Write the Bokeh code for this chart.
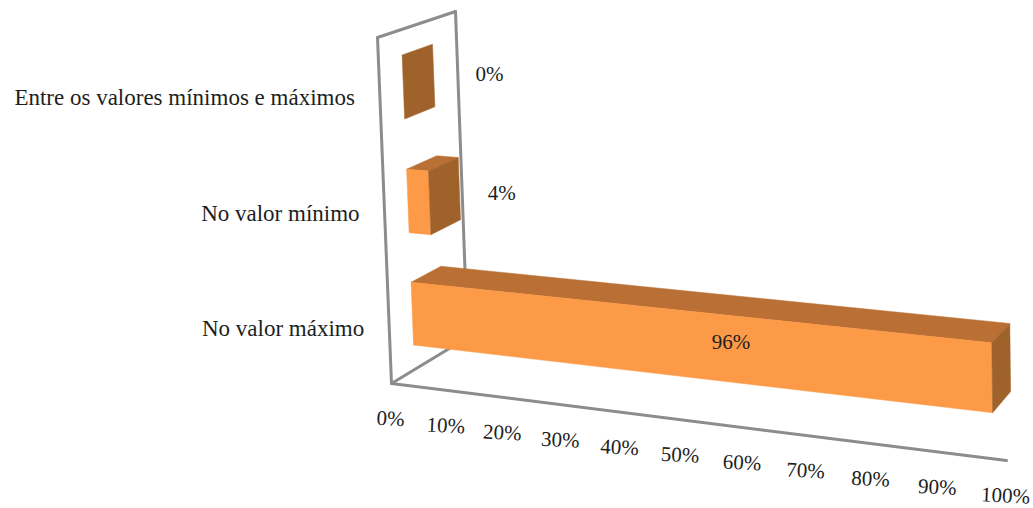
from bokeh.core.properties import value
from bokeh.embed import file_html
from bokeh.models import Range1d
from bokeh.plotting import figure
from bokeh.resources import INLINE
import numpy as np

# Chart data, bottom category first
categories = ["No valor máximo", "No valor mínimo", "Entre os valores mínimos e máximos"]
shares = [96, 4, 0]
value_ticks = [0, 10, 20, 30, 40, 50, 60, 70, 80, 90, 100]

FONT = "Liberation Serif"
CAT_SIZE = "23px"
NUM_SIZE = "21px"
FRONT, TOP, SIDE = "#FC9A47", "#BA7034", "#A0622B"
WALL = "#8C8C8C"
INK = "#1E1E1E"

# Camera: screen position of the box origin and of the far end of each axis
ORIGIN = np.array([391.0, 383.0])
VALUE_END = np.array([1006.0, 460.0])
CAT_END = np.array([377.0, 37.0])
DEPTH_END = np.array([467.0, 337.0])
WALL_CORNER = np.array([455.0, 11.0])
VALUE_WEIGHT = 0.89

# Perspective weights of the category and depth axes, from the wall's far corner
_m = np.column_stack([CAT_END - WALL_CORNER, DEPTH_END - WALL_CORNER])
CAT_WEIGHT, DEPTH_WEIGHT = np.linalg.solve(_m, ORIGIN - WALL_CORNER)


def project(v, c, d):
    """Map value (0-100), category height (0-1) and depth (0-1) to the page."""
    t = v / 100.0
    h = (ORIGIN
         + t * (VALUE_WEIGHT * VALUE_END - ORIGIN)
         + c * (CAT_WEIGHT * CAT_END - ORIGIN)
         + d * (DEPTH_WEIGHT * DEPTH_END - ORIGIN))
    w = 1 + t * (VALUE_WEIGHT - 1) + c * (CAT_WEIGHT - 1) + d * (DEPTH_WEIGHT - 1)
    return h / w


p = figure(width=1033, height=508, output_backend="svg", toolbar_location=None,
           x_range=Range1d(0, 1033), y_range=Range1d(508, 0),
           min_border=0, outline_line_color=None, background_fill_color="white",
           border_fill_color="white")
p.axis.visible = False
p.grid.visible = False

# Wall and floor edges of the box
edges = [((0, 0, 0), (100, 0, 0)), ((0, 0, 0), (0, 0, 1)), ((0, 0, 0), (0, 1, 0)),
         ((0, 1, 0), (0, 1, 1)), ((0, 1, 1), (0, 0, 1))]
xs, ys = [], []
for a, b in edges:
    pa, pb = project(*a), project(*b)
    xs.append([pa[0], pb[0]])
    ys.append([pa[1], pb[1]])
p.multi_line(xs, ys, line_color=WALL, line_width=3, line_cap="round")

# Bar blocks: each category takes a third of the height
BAR_NEAR, BAR_FAR = 0.29, 0.68
px, py, pc = [], [], []


def add_face(corners, colour):
    pts = [project(*q) for q in corners]
    px.append([q[0] for q in pts])
    py.append([q[1] for q in pts])
    pc.append(colour)


for i, share in enumerate(shares):
    lo = (i + 0.22) / 3
    hi = (i + 0.78) / 3
    n, f = BAR_NEAR, BAR_FAR
    if share > 0:
        add_face([(0, hi, n), (share, hi, n), (share, hi, f), (0, hi, f)], TOP)
        add_face([(0, lo, n), (share, lo, n), (share, hi, n), (0, hi, n)], FRONT)
    add_face([(share, lo, n), (share, lo, f), (share, hi, f), (share, hi, n)], SIDE)
p.patches(px, py, fill_color=pc, line_color=pc, line_width=0.5)

# Category labels sit left of the wall's near edge
cat_pts = [project(0, (i + 0.5) / 3, 0) for i in range(3)]
p.text([q[0] for q in cat_pts], [q[1] for q in cat_pts], text=categories,
       text_font=value(FONT), text_font_size=CAT_SIZE, text_color=INK,
       text_align="right", text_baseline="middle", x_offset=-25, y_offset=2)

# Value axis labels under the floor edge
tick_pts = [project(v, 0, 0) for v in value_ticks]
p.text([q[0] for q in tick_pts], [q[1] for q in tick_pts],
       text=[f"{v}%" for v in value_ticks],
       text_font=value(FONT), text_font_size=NUM_SIZE, text_color=INK,
       text_align="center", text_baseline="middle", x_offset=-1, y_offset=35,
       angle=-0.05)

# Value labels beside or on each bar
big = project(shares[0] * 0.58, 0.5 / 3, BAR_NEAR)
lx = [big[0] - 2,
      project(shares[1], 1.5 / 3, BAR_NEAR)[0] + 72,
      project(shares[2], 2.5 / 3, BAR_NEAR)[0] + 86]
ly = [big[1] - 7,
      project(shares[1], 1.5 / 3, BAR_NEAR)[1] - 10,
      project(shares[2], 2.5 / 3, BAR_NEAR)[1] - 13]
p.text(lx, ly, text=[f"{s}%" for s in shares],
       text_font=value(FONT), text_font_size=NUM_SIZE, text_color=INK,
       text_align="center", text_baseline="middle")

open("out.html", "w").write(file_html(p, INLINE))
